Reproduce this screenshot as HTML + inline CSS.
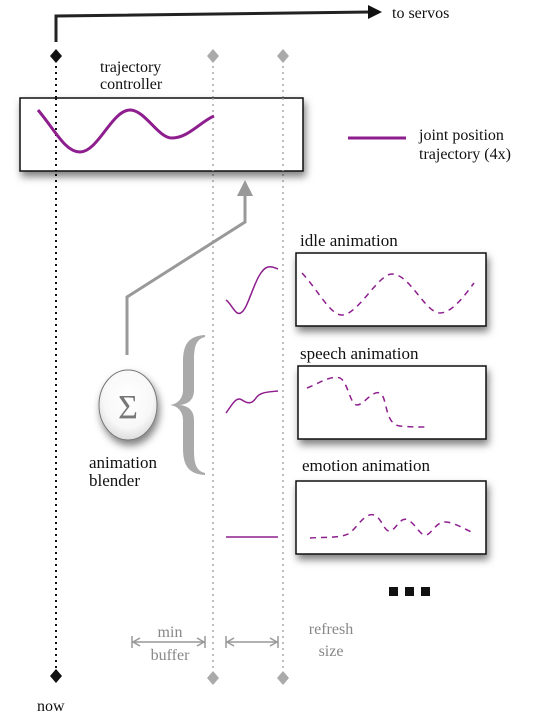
<!DOCTYPE html>
<html><head><meta charset="utf-8"><style>
html,body{margin:0;padding:0;background:#fff;width:549px;height:716px;overflow:hidden}
svg{display:block}
text{font-family:"Liberation Serif",serif}
</style></head><body>
<svg width="549" height="716" viewBox="0 0 549 716" xmlns="http://www.w3.org/2000/svg">
<defs>
<filter id="sh" x="-10%" y="-10%" width="130%" height="150%"><feDropShadow dx="2" dy="5" stdDeviation="4" flood-color="#000" flood-opacity="0.5"/></filter>
<radialGradient id="cg" cx="50%" cy="40%" r="60%"><stop offset="0" stop-color="#fff"/><stop offset="0.7" stop-color="#f8f8f8"/><stop offset="1" stop-color="#ddd"/></radialGradient>
</defs>
<polyline points="56,42 56,16 370,12" fill="none" stroke="#222" stroke-width="3"/>
<polygon points="368,5 382,12 368,19" fill="#111"/>
<text x="392" y="18" font-size="16" fill="#111">to servos</text>
<line x1="56" y1="60" x2="56" y2="672" stroke="#111" stroke-width="2" stroke-dasharray="2,4"/>
<polygon points="56,49 62,56 56,63 50,56" fill="#111"/>
<polygon points="56,669 62,676 56,683 50,676" fill="#111"/>
<text x="37" y="711" font-size="16" fill="#111">now</text>
<line x1="213" y1="60" x2="213" y2="672" stroke="#aaa" stroke-width="1.5" stroke-dasharray="2,4"/>
<line x1="283" y1="60" x2="283" y2="672" stroke="#aaa" stroke-width="1.5" stroke-dasharray="2,4"/>
<polygon points="213,49 219,56 213,63 207,56" fill="#aaa"/>
<polygon points="283,49 289,56 283,63 277,56" fill="#aaa"/>
<polygon points="213,671 219,678 213,685 207,678" fill="#aaa"/>
<polygon points="283,671 289,678 283,685 277,678" fill="#aaa"/>
<text x="100" y="72" font-size="16" fill="#111">trajectory</text>
<text x="100" y="89" font-size="16" fill="#111">controller</text>
<rect x="20" y="98" width="283" height="73" fill="#fff" stroke="#111" stroke-width="1.5" filter="url(#sh)"/>
<line x1="56" y1="98" x2="56" y2="171" stroke="#111" stroke-width="2" stroke-dasharray="2,4"/>
<line x1="213" y1="98" x2="213" y2="171" stroke="#aaa" stroke-width="1.5" stroke-dasharray="2,4"/>
<line x1="283" y1="98" x2="283" y2="171" stroke="#aaa" stroke-width="1.5" stroke-dasharray="2,4"/>
<path d="M38,110 C55,130 65,152 80,152 C98,152 112,110 130,110 C145,110 158,138 172,138 C188,138 200,122 214,116" fill="none" stroke="#8e1e8e" stroke-width="3"/>
<line x1="348" y1="138" x2="406" y2="138" stroke="#8e1e8e" stroke-width="3"/>
<text x="419" y="140" font-size="16" fill="#111">joint position</text>
<text x="419" y="159" font-size="16" fill="#111">trajectory (4x)</text>
<polyline points="127,355 127,297 245,222 245,195" fill="none" stroke="#999" stroke-width="3"/>
<polygon points="237,196 245,180 253,196" fill="#999"/>
<ellipse cx="128" cy="405" rx="29" ry="35" fill="url(#cg)" stroke="#777" stroke-width="1" filter="url(#sh)"/>
<text x="128" y="418" font-size="34" fill="#777" text-anchor="middle">Σ</text>
<text x="89" y="468" font-size="17" fill="#111">animation</text>
<text x="89" y="486" font-size="17" fill="#111">blender</text>
<!-- brace -->
<path d="M205,335 C188,336 183,345 183,362 L183,390 C183,398 178,404 170,405 C178,406 183,412 183,420 L183,448 C183,465 188,474 205,475 L205,473 C196,471 194,463 194,450 L194,420 C194,410 188,406 180,405 C188,404 194,400 194,390 L194,360 C194,347 196,339 205,337 Z" fill="#aaa"/>
<path d="M226,300 C232,304 236,318 242,312 C250,305 256,270 268,267 C272,266 275,268 278,269" fill="none" stroke="#8e1e8e" stroke-width="1.5"/>
<path d="M226,413 C232,405 236,396 242,400 C248,404 252,404 256,398 C260,392 268,392 278,391" fill="none" stroke="#8e1e8e" stroke-width="1.5"/>
<line x1="226" y1="537" x2="278" y2="537" stroke="#8e1e8e" stroke-width="1.5"/>
<text x="300" y="246" font-size="17" fill="#111">idle animation</text>
<rect x="296" y="253" width="190" height="73" fill="#fff" stroke="#111" stroke-width="1.5" filter="url(#sh)"/>
<path d="M302,273 C318,290 330,315 342,315 C358,315 378,274 392,274 C410,274 425,313 440,313 C452,313 465,295 474,283" fill="none" stroke="#8e1e8e" stroke-width="1.5" stroke-dasharray="6,5"/>
<text x="300" y="359" font-size="17" fill="#111">speech animation</text>
<rect x="298" y="366" width="188" height="73" fill="#fff" stroke="#111" stroke-width="1.5" filter="url(#sh)"/>
<path d="M307,388 C318,384 330,375 340,378 C348,382 350,405 357,405 C364,405 372,390 380,393 C388,398 384,424 400,426 C410,427 420,427 428,427" fill="none" stroke="#8e1e8e" stroke-width="1.5" stroke-dasharray="6,5"/>
<text x="302" y="471" font-size="17" fill="#111">emotion animation</text>
<rect x="296" y="481" width="190" height="73" fill="#fff" stroke="#111" stroke-width="1.5" filter="url(#sh)"/>
<path d="M310,538 C325,537 340,538 348,534 C356,530 364,512 374,515 C382,518 384,532 390,531 C396,530 400,516 408,520 C416,524 420,536 426,535 C432,534 436,521 446,522 C456,523 466,530 474,533" fill="none" stroke="#8e1e8e" stroke-width="1.5" stroke-dasharray="6,5"/>
<rect x="389" y="587" width="9" height="9" fill="#111"/>
<rect x="405" y="587" width="9" height="9" fill="#111"/>
<rect x="421" y="587" width="9" height="9" fill="#111"/>
<g stroke="#999" stroke-width="1.5" fill="none">
<line x1="132" y1="642" x2="205" y2="642"/>
<line x1="132" y1="636" x2="132" y2="648"/>
<line x1="205" y1="636" x2="205" y2="648"/>
<polyline points="140,638 133,642 140,646"/>
<polyline points="197,638 204,642 197,646"/>
<line x1="226" y1="642" x2="278" y2="642"/>
<line x1="226" y1="636" x2="226" y2="648"/>
<line x1="278" y1="636" x2="278" y2="648"/>
<polyline points="234,638 227,642 234,646"/>
<polyline points="270,638 277,642 270,646"/>
</g>
<text x="170" y="637" font-size="16" fill="#888" text-anchor="middle">min</text>
<text x="170" y="660" font-size="16" fill="#888" text-anchor="middle">buffer</text>
<text x="331" y="634" font-size="16" fill="#888" text-anchor="middle">refresh</text>
<text x="331" y="656" font-size="16" fill="#888" text-anchor="middle">size</text>
</svg>
</body></html>
